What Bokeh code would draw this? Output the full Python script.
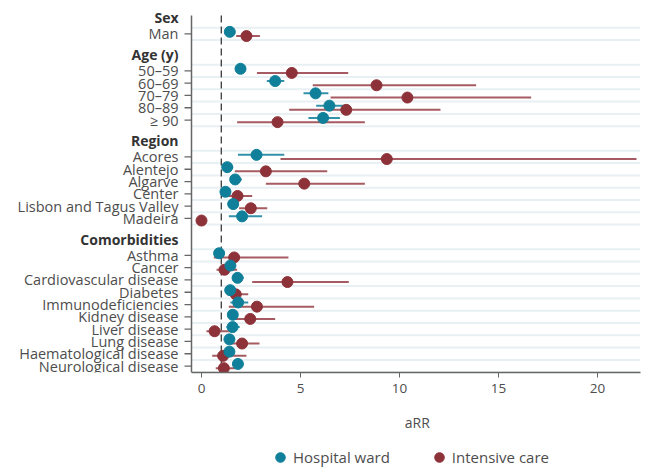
from bokeh.plotting import figure
from bokeh.models import Range1d, FixedTicker, Legend, LegendItem, ColumnDataSource
from bokeh.layouts import column
from bokeh.core.properties import value
from bokeh.embed import file_html
from bokeh.resources import INLINE

# ---------------- data ----------------
groups = ["Sex", "Age (y)", "Region", "Comorbidities"]
categories = ["Man",
              "50–59", "60–69", "70–79", "80–89", "≥ 90",
              "Acores", "Alentejo", "Algarve", "Center", "Lisbon and Tagus Valley", "Madeira",
              "Asthma", "Cancer", "Cardiovascular disease", "Diabetes", "Immunodeficiencies",
              "Kidney disease", "Liver disease", "Lung disease", "Haematological disease",
              "Neurological disease"]
category_group = ["Sex"] + ["Age (y)"] * 5 + ["Region"] * 6 + ["Comorbidities"] * 10

ward_rr = [1.43, 1.97, 3.72, 5.76, 6.46, 6.14, 2.78, 1.30, 1.70, 1.21, 1.60, 2.05,
           0.89, 1.46, 1.82, 1.45, 1.85, 1.58, 1.57, 1.41, 1.41, 1.84]
ward_lo = [1.30, 1.80, 3.30, 5.15, 5.79, 5.40, 1.84, 1.15, 1.46, 1.08, 1.46, 1.38,
           0.71, 1.29, 1.55, 1.27, 1.46, 1.43, 1.26, 1.28, 1.28, 1.68]
ward_hi = [1.58, 2.22, 4.18, 6.41, 7.19, 6.99, 4.18, 1.60, 2.04, 1.36, 1.77, 3.06,
           1.16, 1.66, 2.14, 1.62, 2.36, 1.73, 1.93, 1.56, 1.56, 2.02]
icu_rr = [2.27, 4.56, 8.84, 10.40, 7.31, 3.84, 9.36, 3.25, 5.19, 1.82, 2.49, 0.0,
          1.65, 1.16, 4.34, 1.73, 2.80, 2.46, 0.66, 2.05, 1.09, 1.13]
icu_lo = [1.75, 2.80, 5.62, 6.52, 4.43, 1.80, 3.99, 1.68, 3.25, 1.13, 1.90, 0.0,
          0.62, 0.76, 2.56, 1.30, 1.38, 1.63, 0.25, 1.46, 0.54, 0.72]
icu_hi = [2.95, 7.41, 13.87, 16.65, 12.07, 8.25, 21.97, 6.35, 8.25, 2.56, 3.32, 0.0,
          4.39, 1.80, 7.44, 2.36, 5.69, 3.72, 1.68, 2.93, 2.27, 1.72]
x_ticks = [0, 5, 10, 15, 20]
reference_line = 1
x_title = "aRR"
series_names = ["Hospital ward", "Intensive care"]

# ---------------- styling / layout constants ----------------
BLUE = "#0f7f9a"
RED = "#8e3239"
FONT = "Open Sans"
TXT = "#4d4d4d"
AXC = "#666666"

W = 645
H_MAIN = 404
H_LEG = 63
PX_PER_UNIT = 19.8          # horizontal scale
ZERO_PX = 201               # screen x of value 0
FRAME_RIGHT_PX = 640
AXIS_PX = 191               # screen x of the vertical axis line
ROW_PX = 12.3               # height of one row
TOP_PX = 15                 # screen y of row 0 (top of the plotting area)
BOTTOM_PX = 372             # screen y of the horizontal axis
TITLE_X_PX = 420            # centre of the axis title
TITLE_Y_PX = 18             # within the lower strip

x_start = (0 - ZERO_PX) / PX_PER_UNIT
x_end = (FRAME_RIGHT_PX - ZERO_PX) / PX_PER_UNIT
axis_x = (AXIS_PX - ZERO_PX) / PX_PER_UNIT
tick_len = 7 / PX_PER_UNIT
y_top = -TOP_PX / ROW_PX
y_bottom = (BOTTOM_PX - TOP_PX) / ROW_PX

ypos = []
header_y = {}
cur = 1.5
prev_group = None
for g in category_group:
    if prev_group is not None and g != prev_group:
        cur += 3
    elif prev_group is not None:
        cur += 1
    if g not in header_y:
        header_y[g] = cur - 1.3
    ypos.append(cur)
    prev_group = g

off = 0.17
ward_y = [y - off for y in ypos]
icu_y = [y + off for y in ypos]

p = figure(width=W, height=H_MAIN, output_backend="svg", toolbar_location=None,
           x_range=Range1d(x_start, x_end), y_range=Range1d(y_bottom, y_top),
           y_axis_location=None,
           min_border_left=0, min_border_right=W - FRAME_RIGHT_PX, min_border_top=0,
           min_border_bottom=H_MAIN - BOTTOM_PX)
p.outline_line_color = None
p.grid.visible = False

# light row bands
edges = sorted(set([y - 0.5 for y in ypos] + [y + 0.5 for y in ypos]))
p.segment(x0=axis_x, x1=x_end, y0=edges, y1=edges, line_color="#e9f0f3", line_width=2)

# reference line (dashed)
p.segment(x0=reference_line, x1=reference_line, y0=0, y1=y_bottom, line_color="#3a3a3a",
          line_dash="7 4", line_width=1.3)

# vertical axis line, ticks, labels
p.segment(x0=axis_x, x1=axis_x, y0=0, y1=y_bottom, line_color=AXC, line_width=1.5)
p.segment(x0=axis_x - tick_len, x1=axis_x, y0=ypos, y1=ypos, line_color=AXC, line_width=1.3)
p.text(x=axis_x, y=ypos, text=categories, x_offset=-13, text_align="right",
       text_baseline="middle", text_font=value(FONT), text_font_size="14.5px", text_color=TXT)
p.text(x=axis_x, y=[header_y[g] for g in groups], text=groups, x_offset=-13,
       text_align="right", text_baseline="middle", text_font=value(FONT),
       text_font_size="14px", text_font_style="bold", text_color="#333333")

ws = ColumnDataSource(dict(x=ward_rr, lo=ward_lo, hi=ward_hi, y=ward_y))
isrc = ColumnDataSource(dict(x=icu_rr, lo=icu_lo, hi=icu_hi, y=icu_y))

p.segment(x0="lo", x1="hi", y0="y", y1="y", source=isrc, line_color=RED, line_alpha=0.8, line_width=2)
p.segment(x0="lo", x1="hi", y0="y", y1="y", source=ws, line_color=BLUE, line_alpha=0.85, line_width=2)
p.scatter(x="x", y="y", source=isrc, size=11, fill_color=RED, line_color=RED)
p.scatter(x="x", y="y", source=ws, size=11, fill_color=BLUE, line_color=BLUE)

# horizontal axis
p.xaxis.bounds = (axis_x, x_end)
p.xaxis.ticker = FixedTicker(ticks=x_ticks)
p.xaxis.minor_tick_line_color = None
p.xaxis.major_tick_out = 5
p.xaxis.major_tick_in = 0
p.xaxis.axis_line_color = AXC
p.xaxis.axis_line_width = 1.5
p.xaxis.major_tick_line_color = AXC
p.xaxis.major_label_text_font = FONT
p.xaxis.major_label_text_font_size = "13.5px"
p.xaxis.major_label_text_color = TXT
p.xaxis.major_label_standoff = 6

# ---------------- lower strip: axis title + legend ----------------
lg = figure(width=W, height=H_LEG, output_backend="svg", toolbar_location=None,
            x_range=Range1d(0, W), y_range=Range1d(H_LEG, 0),
            x_axis_location=None, y_axis_location=None,
            min_border_left=0, min_border_right=0, min_border_top=0, min_border_bottom=0)
lg.outline_line_color = None
lg.grid.visible = False
lg.text(x=[TITLE_X_PX], y=[TITLE_Y_PX], text=[x_title], text_align="center",
        text_baseline="middle", text_font=value(FONT), text_font_size="14px", text_color=TXT)
r1 = lg.scatter(x=[-100], y=[-100], size=11, fill_color=BLUE, line_color=BLUE)
r2 = lg.scatter(x=[-100], y=[-100], size=11, fill_color=RED, line_color=RED)
legend = Legend(items=[LegendItem(label=series_names[0], renderers=[r1]),
                       LegendItem(label=series_names[1], renderers=[r2])],
                orientation="horizontal", location=(268, -2),
                label_text_font=FONT, label_text_font_size="15px", label_text_color=TXT,
                glyph_width=24, glyph_height=24, label_standoff=1, spacing=37,
                border_line_color=None, background_fill_alpha=0, margin=0, padding=0)
lg.add_layout(legend, "center")

layout = column(p, lg, spacing=0)
open("out.html", "w").write(file_html(layout, INLINE))
